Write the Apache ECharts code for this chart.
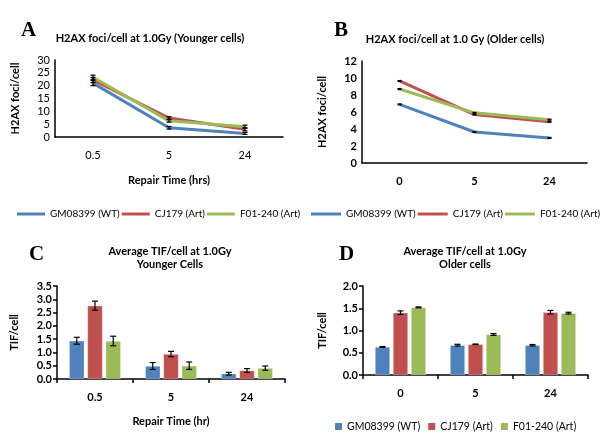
<!DOCTYPE html>
<html>
<head>
<meta charset="utf-8">
<script src="https://cdn.jsdelivr.net/npm/echarts@6/dist/echarts.min.js"></script>
<style>
html,body{margin:0;padding:0;background:#fff;}
#chart{width:600px;height:443px;}
</style>
</head>
<body>
<div id="chart"></div>
<script>
// ---- data ----
const seriesNames = ['GM08399 (WT)', 'CJ179 (Art)', 'F01-240 (Art)'];
const colors = ['#4F81BD', '#C0504D', '#9BBB59'];

// Panel A: H2AX foci/cell, younger cells
const catsA = ['0.5', '5', '24'];
const aGM = [21.0, 3.6, 1.4];
const aCJ = [22.2, 7.4, 3.0];
const aF01 = [23.3, 6.3, 4.0];
const aErrGM = [1.0, 0.5, 0.4];
const aErrCJ = [1.0, 0.5, 0.6];
const aErrF01 = [0.8, 0.5, 0.6];

// Panel B: H2AX foci/cell, older cells
const catsB = ['0', '5', '24'];
const bGM = [6.9, 3.65, 2.95];
const bCJ = [9.65, 5.7, 4.85];
const bF01 = [8.7, 5.9, 5.1];
const bErrGM = [0.05, 0.05, 0.05];
const bErrCJ = [0.05, 0.05, 0.05];
const bErrF01 = [0.05, 0.05, 0.05];

// Panel C: Average TIF/cell, younger cells
const catsC = ['0.5', '5', '24'];
const cGM = [1.44, 0.49, 0.2];
const cCJ = [2.76, 0.94, 0.32];
const cF01 = [1.43, 0.5, 0.41];
const cErrGM = [0.13, 0.13, 0.05];
const cErrCJ = [0.17, 0.1, 0.07];
const cErrF01 = [0.18, 0.14, 0.08];

// Panel D: Average TIF/cell, older cells
const catsD = ['0', '5', '24'];
const dGM = [0.63, 0.67, 0.67];
const dCJ = [1.4, 0.69, 1.41];
const dF01 = [1.52, 0.91, 1.39];
const dErrGM = [0.01, 0.02, 0.015];
const dErrCJ = [0.04, 0.005, 0.04];
const dErrF01 = [0.01, 0.02, 0.02];

// ---- helpers ----
const FONT = 'Lato';
function errRender(offsetFactor, capHalf) {
  return function (params, api) {
    const c = api.value(0), v = api.value(1), e = api.value(2);
    const hi = api.coord([c, v + e]);
    const lo = api.coord([c, v - e]);
    const w = api.size([1, 0])[0];
    const x = hi[0] + offsetFactor * w;
    const st = { stroke: '#000', lineWidth: 1.2 };
    return {
      type: 'group',
      children: [
        { type: 'line', shape: { x1: x, y1: hi[1], x2: x, y2: lo[1] }, style: st },
        { type: 'line', shape: { x1: x - capHalf, y1: hi[1], x2: x + capHalf, y2: hi[1] }, style: st },
        { type: 'line', shape: { x1: x - capHalf, y1: lo[1], x2: x + capHalf, y2: lo[1] }, style: st }
      ]
    };
  };
}
function errData(vals, errs) { return vals.map((v, i) => [i, v, errs[i]]); }
function errSeries(idx, vals, errs, offsetFactor, capHalf, nm) {
  return {
    type: 'custom', name: nm, xAxisIndex: idx, yAxisIndex: idx,
    renderItem: errRender(offsetFactor, capHalf),
    data: errData(vals, errs), encode: { x: 0, y: 1 }, z: 10, silent: true
  };
}
function lineS(idx, name, vals, color) {
  return {
    type: 'line', name: name, xAxisIndex: idx, yAxisIndex: idx, data: vals,
    symbol: 'none', lineStyle: { width: 3, color: color }, itemStyle: { color: color }
  };
}
function barS(idx, name, vals, color) {
  return {
    type: 'bar', name: name, xAxisIndex: idx, yAxisIndex: idx, data: vals,
    barCategoryGap: '32%', barGap: '20%',
    itemStyle: { color: color, borderColor: 'rgba(255,255,255,0.5)', borderWidth: 0.6 }
  };
}
const axisLineStyle = { show: true, lineStyle: { color: '#000', width: 1.5 } };
function xAx(idx, cats, bold, ticks, name, nameGap) {
  return {
    type: 'category', gridIndex: idx, data: cats,
    axisLine: axisLineStyle,
    axisTick: ticks ? { show: true, alignWithLabel: false, length: 4, lineStyle: { color: '#000', width: 1.5 } } : { show: false },
    axisLabel: { color: '#000', fontFamily: FONT, fontSize: 11, fontWeight: bold ? 'bold' : 'normal', margin: 13 },
    name: name || '', nameLocation: 'middle', nameGap: nameGap || 0,
    nameTextStyle: { color: '#000', fontFamily: FONT, fontSize: 11, fontWeight: 'bold' },
    splitLine: { show: false }
  };
}
function yAx(idx, max, interval, bold, ticks, name, nameGap, dec) {
  return {
    type: 'value', gridIndex: idx, min: 0, max: max, interval: interval,
    axisLine: axisLineStyle,
    axisTick: ticks ? { show: true, length: 4, lineStyle: { color: '#000', width: 1.5 } } : { show: false },
    axisLabel: {
      color: '#000', fontFamily: FONT, fontSize: 11, fontWeight: bold ? 'bold' : 'normal', margin: 5,
      formatter: v => dec ? v.toFixed(dec) : String(v)
    },
    splitLine: { show: false },
    name: name, nameLocation: 'middle', nameRotate: 90, nameGap: nameGap,
    nameTextStyle: { color: '#000', fontFamily: FONT, fontSize: 11, fontWeight: 'bold' }
  };
}
function titleAt(text, left, top, size, family, align) {
  return {
    text: text, left: left, top: top, textAlign: align || 'left',
    textStyle: { fontFamily: family || FONT, fontSize: size, fontWeight: 'bold', color: '#000', lineHeight: size + 2 }
  };
}
function legendAt(left, top, iconW, iconH, gap, fs) {
  return {
    data: seriesNames, left: left, top: top, width: 600 - left, orient: 'horizontal',
    icon: 'rect', itemWidth: iconW, itemHeight: iconH, itemGap: gap,
    textStyle: { fontFamily: FONT, fontSize: fs, color: '#000' }, selectedMode: false
  };
}

const chart = echarts.init(document.getElementById('chart'), null, { renderer: 'canvas' });
const option = {
  backgroundColor: '#fff',
  animation: false,
  title: [
    titleAt('A', 16, 14, 21, 'Liberation Serif'),
    titleAt('B', 329, 14, 21, 'Liberation Serif'),
    titleAt('C', 24, 238, 21, 'Liberation Serif'),
    titleAt('D', 334, 238, 21, 'Liberation Serif'),
    titleAt('H2AX foci/cell at 1.0Gy (Younger cells)', 145, 27, 11, FONT, 'center'),
    titleAt('H2AX foci/cell at 1.0 Gy (Older cells)', 450, 28, 11, FONT, 'center'),
    titleAt('Average TIF/cell at 1.0Gy\nYounger Cells', 165, 240, 11, FONT, 'center'),
    titleAt('Average TIF/cell at 1.0Gy\nOlder cells', 460, 240, 11, FONT, 'center')
  ],
  legend: [
    legendAt(12, 204, 28, 3, 2, 10),
    legendAt(306, 204, 30, 3, 2, 10),
    legendAt(330, 416, 7, 7, 8, 10.5)
  ],
  grid: [
    { left: 55, top: 60, width: 228, height: 77 },
    { left: 362, top: 61, width: 225, height: 102 },
    { left: 57, top: 286, width: 228, height: 93 },
    { left: 363, top: 286, width: 225, height: 89 }
  ],
  xAxis: [
    xAx(0, catsA, false, false, 'Repair Time (hrs)', 38),
    xAx(1, catsB, true, false),
    xAx(2, catsC, true, true, 'Repair Time (hr)', 37),
    xAx(3, catsD, true, true)
  ],
  yAxis: [
    yAx(0, 30, 5, false, false, 'H2AX foci/cell', 34, 0),
    yAx(1, 12, 2, true, false, 'H2AX foci/cell', 34, 0),
    yAx(2, 3.5, 0.5, true, true, 'TIF/cell', 37, 1),
    yAx(3, 2, 0.5, true, true, 'TIF/cell', 35, 1)
  ],
  series: [
    lineS(0, seriesNames[0], aGM, colors[0]),
    lineS(0, seriesNames[1], aCJ, colors[1]),
    lineS(0, seriesNames[2], aF01, colors[2]),
    errSeries(0, aGM, aErrGM, 0, 2.5, 'eA0'),
    errSeries(0, aCJ, aErrCJ, 0, 2.5, 'eA1'),
    errSeries(0, aF01, aErrF01, 0, 2.5, 'eA2'),

    lineS(1, seriesNames[0], bGM, colors[0]),
    lineS(1, seriesNames[1], bCJ, colors[1]),
    lineS(1, seriesNames[2], bF01, colors[2]),
    errSeries(1, bGM, bErrGM, 0, 2, 'eB0'),
    errSeries(1, bCJ, bErrCJ, 0, 2, 'eB1'),
    errSeries(1, bF01, bErrF01, 0, 2, 'eB2'),

    barS(2, seriesNames[0], cGM, colors[0]),
    barS(2, seriesNames[1], cCJ, colors[1]),
    barS(2, seriesNames[2], cF01, colors[2]),
    errSeries(2, cGM, cErrGM, -0.24, 3, 'eC0'),
    errSeries(2, cCJ, cErrCJ, 0, 3, 'eC1'),
    errSeries(2, cF01, cErrF01, 0.24, 3, 'eC2'),

    barS(3, seriesNames[0], dGM, colors[0]),
    barS(3, seriesNames[1], dCJ, colors[1]),
    barS(3, seriesNames[2], dF01, colors[2]),
    errSeries(3, dGM, dErrGM, -0.24, 3, 'eD0'),
    errSeries(3, dCJ, dErrCJ, 0, 3, 'eD1'),
    errSeries(3, dF01, dErrF01, 0.24, 3, 'eD2')
  ]
};
chart.setOption(option);
</script>
</body>
</html>
